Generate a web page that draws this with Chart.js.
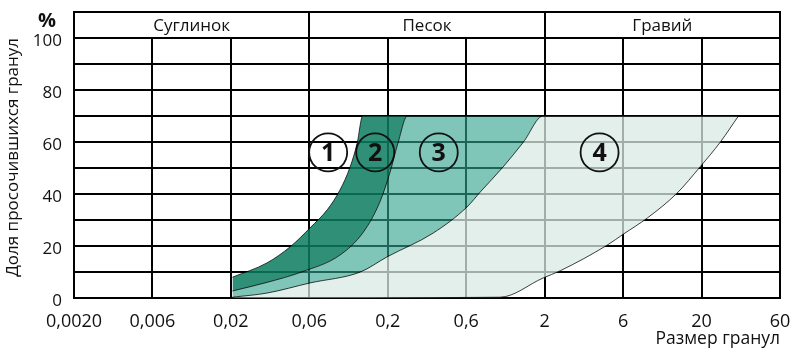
<!DOCTYPE html>
<html lang="ru">
<head>
<meta charset="UTF-8">
<title>Гранулометрический состав</title>
<script src="https://cdn.jsdelivr.net/npm/chart.js"></script>
<style>
    html, body { margin: 0; padding: 0; background: #ffffff; }
    .wrap { width: 795px; height: 350px; }
</style>
</head>
<body>
<div class="wrap"><canvas id="chart"></canvas></div>
<script>
    // x: position on the size scale (0 = 0,0020 ... 9 = 60), y: % passing
    const sizeLabels = ['0,0020', '0,006', '0,02', '0,06', '0,2', '0,6', '2', '6', '20', '60'];
    const soilNames = ['Суглинок', 'Песок', 'Гравий'];
    const soilEdges = [0, 3, 6, 9];

    const curve1 = [[2.02, 8], [2.46, 13.5], [2.76, 19.8], [3.01, 27], [3.23, 34], [3.39, 41.5], [3.52, 50.4], [3.61, 59.6], [3.68, 70]];
    const curve2 = [[2.02, 2.7], [2.46, 6], [2.9, 10], [3.39, 16.5], [3.69, 25.4], [3.9, 37], [4.03, 48.5], [4.13, 59.6], [4.25, 70]];
    const curve3 = [[2.02, 0.3], [2.46, 1.9], [3.01, 5.8], [3.65, 10], [3.99, 15.8], [4.58, 25], [5.01, 35], [5.18, 40.8], [5.47, 50.4], [5.73, 60], [5.98, 70]];
    const curve4 = [[5.43, 0.3], [5.98, 7.7], [6.2, 10.5], [6.8, 20.4], [7.0, 24.5], [7.31, 30.8], [7.69, 40.4], [7.98, 50.4], [8.24, 60], [8.47, 70]];

    const zoneNumbers = ['1', '2', '3', '4'];
    const zoneX = [3.24, 3.84, 4.65, 6.7];
    const zoneY = [56, 56, 56, 56];

    const toPts = arr => arr.map(p => ({x: p[0], y: p[1]}));
    const topRight = curve4[curve4.length - 1];
    const bottomLeft = [curve1[0][0], 0];

    const edgeStyle = {
        borderColor: 'rgba(0, 0, 0, 0.75)',
        borderWidth: 1,
        pointRadius: 0,
        cubicInterpolationMode: 'monotone'
    };

    const decor = {
        id: 'decor',
        afterDraw(chart) {
            const {ctx, chartArea: a, scales: {x, y}} = chart;
            const rowH = y.getPixelForValue(90) - y.getPixelForValue(100);
            const top = a.top - rowH;
            ctx.save();
            ctx.strokeStyle = '#000';
            ctx.lineWidth = 2;
            ctx.strokeRect(a.left, top, a.right - a.left, rowH);
            soilEdges.slice(1, -1).forEach(e => {
                const px = Math.round(x.getPixelForValue(e));
                ctx.beginPath();
                ctx.moveTo(px, top);
                ctx.lineTo(px, a.top);
                ctx.stroke();
            });
            ctx.fillStyle = '#111';
            ctx.textAlign = 'center';
            ctx.textBaseline = 'middle';
            ctx.font = '17px "Open Sans", sans-serif';
            soilNames.forEach((n, i) => {
                const cx = (x.getPixelForValue(soilEdges[i]) + x.getPixelForValue(soilEdges[i + 1])) / 2;
                ctx.fillText(n, cx, top + rowH / 2 + 1);
            });
            ctx.font = 'bold 20px "Open Sans", sans-serif';
            ctx.fillText('%', a.left - 27, top + rowH / 2 - 4);
            ctx.font = 'bold 25px "Open Sans", sans-serif';
            zoneNumbers.forEach((n, i) => {
                ctx.fillText(n, x.getPixelForValue(zoneX[i]), y.getPixelForValue(zoneY[i]) + 1);
            });
            ctx.restore();
        }
    };

    Chart.defaults.font.family = '"Open Sans", sans-serif';

    new Chart(document.getElementById('chart'), {
        type: 'line',
        data: {
            datasets: [
                {
                    ...edgeStyle,
                    data: toPts(curve1.concat([topRight])),
                    fill: false
                },
                {
                    ...edgeStyle,
                    data: toPts(curve2.concat([topRight])),
                    fill: '-1',
                    backgroundColor: 'rgba(10, 125, 95, 0.85)'
                },
                {
                    ...edgeStyle,
                    data: toPts(curve3.concat([topRight])),
                    fill: '-1',
                    backgroundColor: 'rgba(48, 163, 140, 0.62)'
                },
                {
                    ...edgeStyle,
                    data: toPts([bottomLeft].concat(curve4)),
                    fill: '-1',
                    backgroundColor: 'rgba(216, 234, 228, 0.74)'
                },
                {
                    data: zoneX.map((v, i) => ({x: v, y: zoneY[i]})),
                    showLine: false,
                    fill: false,
                    pointRadius: 19,
                    pointBorderWidth: 1.8,
                    pointBorderColor: '#111',
                    pointBackgroundColor: 'rgba(0, 0, 0, 0)'
                }
            ]
        },
        options: {
            responsive: true,
            maintainAspectRatio: false,
            animation: false,
            layout: { autoPadding: false, padding: { top: 38, right: 15, left: 0, bottom: 0 } },
            plugins: {
                legend: { display: false },
                tooltip: { enabled: false },
                filler: { drawTime: 'beforeDatasetsDraw', propagate: false }
            },
            scales: {
                x: {
                    type: 'linear',
                    min: 0,
                    max: 9,
                    grid: { color: '#000', lineWidth: 2, drawTicks: false },
                    border: { color: '#000', width: 2 },
                    ticks: {
                        stepSize: 1,
                        padding: 13,
                        color: '#111',
                        maxRotation: 0,
                        autoSkip: false,
                        font: { size: 18 },
                        callback: v => sizeLabels[v] ?? ''
                    },
                    title: {
                        display: true,
                        text: 'Размер гранул',
                        align: 'end',
                        color: '#111',
                        font: { size: 17.5 },
                        padding: { top: 0, bottom: 0 }
                    },
                    afterFit: s => {
                        s.height = 52;
                        s.paddingLeft = 0;
                        s.paddingRight = 0;
                    }
                },
                y: {
                    min: 0,
                    max: 100,
                    grid: { color: '#000', lineWidth: 2, drawTicks: false },
                    border: { color: '#000', width: 2 },
                    ticks: {
                        stepSize: 10,
                        padding: 12,
                        labelOffset: 3,
                        color: '#111',
                        font: { size: 17 },
                        callback: v => v % 20 === 0 ? v : ''
                    },
                    title: {
                        display: true,
                        text: 'Доля просочившихся гранул',
                        align: 'end',
                        color: '#111',
                        font: { size: 17 },
                        padding: { top: 3, bottom: 0 }
                    },
                    afterFit: s => {
                        s.width = 74;
                        s.paddingTop = 0;
                        s.paddingBottom = 0;
                    }
                }
            }
        },
        plugins: [decor]
    });
</script>
</body>
</html>
